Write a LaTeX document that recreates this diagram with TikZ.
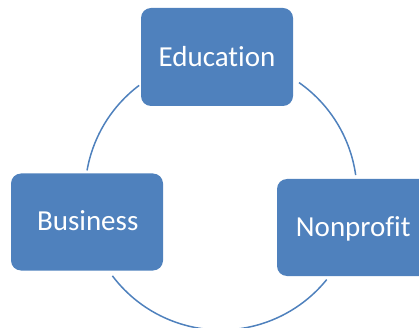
\documentclass[tikz,border=0pt]{standalone}
\usepackage{fontspec}
\setmainfont{Carlito}[Ligatures={NoCommon}]
\definecolor{boxblue}{HTML}{4F81BD}
\begin{document}
\begin{tikzpicture}[x=1pt,y=1pt,
  box/.style={fill=boxblue, rounded corners=10pt, minimum width=152pt, minimum height=98pt, inner sep=0pt, draw=none},
  lbl/.style={text=white, font=\fontsize{29}{34}\selectfont, anchor=base, inner sep=0pt},
  ring/.style={draw=boxblue, line width=1.5pt}]
\useasboundingbox (0,0) rectangle (419,-328);
\node[box] (edu) at (217,-57) {};
\node[box, minimum height=97pt] (bus) at (87,-222) {};
\node[box, minimum height=97pt] (non) at (353,-227.5) {};
\node[lbl] (edut) at (217,-66.5) {Education};
\node[lbl] (bust) at (87.7,-230.7) {Business};
\node[lbl] (nont) at (353.3,-236) {Nonprofit};
\coordinate (c) at (221,-194);
\draw[ring] (c) ++(127:136) arc[start angle=127, end angle=170, radius=136];
\draw[ring] (c) ++(8:136) arc[start angle=8, end angle=55, radius=136];
\draw[ring] (c) ++(217:136) arc[start angle=217, end angle=321, radius=136];
\end{tikzpicture}
\end{document}
